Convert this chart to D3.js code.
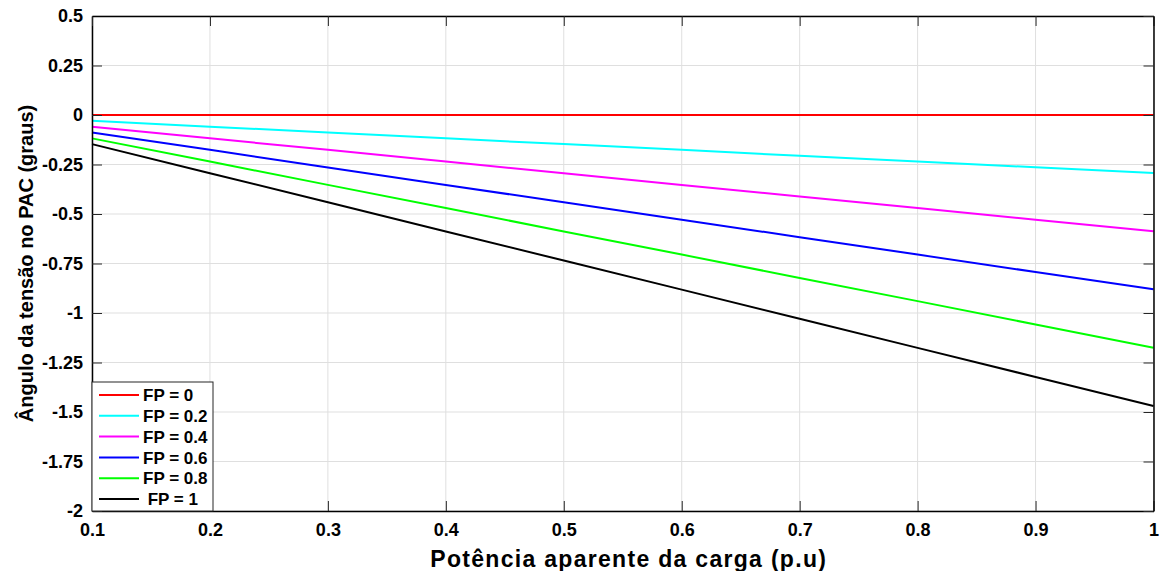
<!DOCTYPE html>
<html>
<head>
<meta charset="utf-8">
<script src="https://cdn.jsdelivr.net/npm/d3@7"></script>
<style>
  body { margin: 0; background: #fff; }
  svg { font-family: "Liberation Sans", Arial, sans-serif; font-weight: bold; }
</style>
</head>
<body>
<div id="chart"></div>
<script>
const xs = [0.1, 0.2, 0.3, 0.4, 0.5, 0.6, 0.7, 0.8, 0.9, 1.0];
const fp0 = [0, 0, 0, 0, 0, 0, 0, 0, 0, 0];
const fp02 = [-0.029, -0.059, -0.088, -0.118, -0.147, -0.176, -0.206, -0.235, -0.264, -0.293];
const fp04 = [-0.059, -0.118, -0.176, -0.235, -0.294, -0.353, -0.412, -0.47, -0.529, -0.587];
const fp06 = [-0.088, -0.176, -0.265, -0.353, -0.441, -0.529, -0.617, -0.705, -0.793, -0.88];
const fp08 = [-0.118, -0.235, -0.353, -0.47, -0.588, -0.705, -0.823, -0.94, -1.058, -1.176];
const fp1 = [-0.147, -0.294, -0.441, -0.588, -0.735, -0.882, -1.029, -1.176, -1.323, -1.47];
const seriesNames = ["FP = 0", "FP = 0.2", "FP = 0.4", "FP = 0.6", "FP = 0.8", " FP = 1"];
const seriesColors = ["#ff0000", "#00ffff", "#ff00ff", "#0000ff", "#00ff00", "#000000"];
const xTicks = [0.1, 0.2, 0.3, 0.4, 0.5, 0.6, 0.7, 0.8, 0.9, 1];
const yTicks = [0.5, 0.25, 0, -0.25, -0.5, -0.75, -1, -1.25, -1.5, -1.75, -2];

const series = [fp0, fp02, fp04, fp06, fp08, fp1];
const W = 1163, H = 571;
const m = { left: 92, right: 9.5, top: 16, bottom: 60 };

const svg = d3.select("#chart").append("svg").attr("width", W).attr("height", H);
const x = d3.scaleLinear().domain([0.1, 1]).range([m.left, W - m.right]);
const y = d3.scaleLinear().domain([-2, 0.5]).range([H - m.bottom, m.top]);

// grid
svg.append("g").selectAll("line").data(xTicks).join("line")
  .attr("x1", d => x(d)).attr("x2", d => x(d))
  .attr("y1", m.top).attr("y2", H - m.bottom)
  .attr("stroke", "#dfdfdf").attr("stroke-width", 1);
svg.append("g").selectAll("line").data(yTicks).join("line")
  .attr("x1", m.left).attr("x2", W - m.right)
  .attr("y1", d => y(d)).attr("y2", d => y(d))
  .attr("stroke", "#dfdfdf").attr("stroke-width", 1);

// lines
const line = d3.line().x((d, i) => x(xs[i])).y(d => y(d));
svg.append("g").selectAll("path").data(series).join("path")
  .attr("d", d => line(d))
  .attr("fill", "none")
  .attr("stroke", (d, i) => seriesColors[i])
  .attr("stroke-width", 2);

// axes (inside ticks, box)
const fmt = d => String(d);
const bottom = svg.append("g").attr("transform", `translate(0,${H - m.bottom})`)
  .call(d3.axisBottom(x).tickValues(xTicks).tickFormat(fmt).tickSizeInner(-10).tickSizeOuter(0));
const left = svg.append("g").attr("transform", `translate(${m.left},0)`)
  .call(d3.axisLeft(y).tickValues(yTicks).tickFormat(fmt).tickSizeInner(-10).tickSizeOuter(0).tickPadding(9));
svg.append("g").attr("transform", `translate(0,${m.top})`)
  .call(d3.axisTop(x).tickValues(xTicks).tickFormat("").tickSizeInner(-10).tickSizeOuter(0));
svg.append("g").attr("transform", `translate(${W - m.right},0)`)
  .call(d3.axisRight(y).tickValues(yTicks).tickFormat("").tickSizeInner(-10).tickSizeOuter(0));
svg.selectAll(".domain").attr("stroke", "#000").attr("stroke-width", 1.5);
svg.selectAll(".tick line").attr("stroke", "#262626");
svg.selectAll(".tick text").attr("font-size", 18).attr("font-weight", "bold")
  .attr("font-family", "Liberation Sans, Arial, sans-serif").attr("fill", "#000");
bottom.selectAll(".tick text").attr("y", 25).attr("dy", 0);

// titles
svg.append("text").attr("x", (m.left + W - m.right) / 2 + 6).attr("y", 567)
  .attr("text-anchor", "middle").attr("font-size", 23).attr("letter-spacing", 1.3)
  .text("Potência aparente da carga (p.u)");
svg.append("text").attr("transform", `translate(33,${(m.top + H - m.bottom) / 2}) rotate(-90)`)
  .attr("text-anchor", "middle").attr("font-size", 20).text("Ângulo da tensão no PAC (graus)");

// legend
const lg = svg.append("g").attr("transform", `translate(${m.left},382)`);
lg.append("rect").attr("width", 121).attr("height", 129)
  .attr("fill", "#fff").attr("stroke", "#262626").attr("stroke-width", 1);
const rows = lg.selectAll("g").data(seriesNames).join("g")
  .attr("transform", (d, i) => `translate(0,${13 + i * 20.8})`);
rows.append("line").attr("x1", 7).attr("x2", 47)
  .attr("stroke", (d, i) => seriesColors[i]).attr("stroke-width", 2);
rows.append("text").attr("x", 51).attr("dy", "0.36em").attr("font-size", 17)
  .style("white-space", "pre").text(d => d);
</script>
</body>
</html>
